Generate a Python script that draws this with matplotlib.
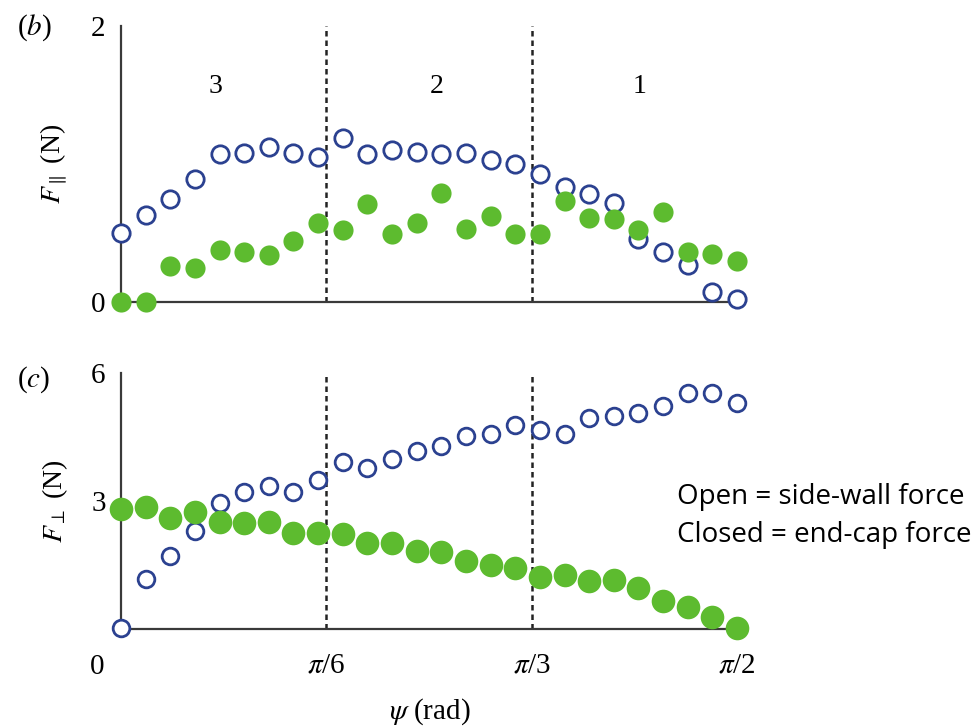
import numpy as np
import matplotlib
matplotlib.use("Agg")
import matplotlib.pyplot as plt

plt.rcParams['font.family'] = ['Liberation Serif', 'DejaVu Serif']
plt.rcParams['mathtext.fontset'] = 'stix'

n_pts = 26
psi = np.linspace(0, np.pi / 2, n_pts)

# Panel (b): F_parallel (N)
par_open = [0.50, 0.63, 0.75, 0.89, 1.07, 1.08, 1.12, 1.08, 1.05, 1.19,
            1.07, 1.10, 1.09, 1.07, 1.08, 1.03, 1.00, 0.93, 0.83, 0.78,
            0.72, 0.46, 0.36, 0.27, 0.07, 0.02]
par_closed = [0.00, 0.00, 0.26, 0.25, 0.38, 0.36, 0.34, 0.44, 0.57, 0.52,
              0.71, 0.49, 0.57, 0.79, 0.53, 0.62, 0.49, 0.49, 0.73, 0.61,
              0.60, 0.52, 0.65, 0.36, 0.35, 0.30]

# Panel (c): F_perp (N)
perp_open = [0.02, 1.17, 1.71, 2.30, 2.95, 3.21, 3.35, 3.21, 3.49, 3.91,
             3.77, 3.98, 4.17, 4.29, 4.52, 4.57, 4.78, 4.66, 4.57, 4.95,
             4.99, 5.06, 5.23, 5.53, 5.53, 5.30]
perp_closed = [2.81, 2.86, 2.60, 2.74, 2.51, 2.48, 2.51, 2.25, 2.25, 2.23,
               2.02, 2.02, 1.83, 1.80, 1.59, 1.49, 1.43, 1.22, 1.27, 1.12,
               1.15, 0.96, 0.66, 0.52, 0.28, 0.02]

region_labels = ['3', '2', '1']
region_x = [0.242, 0.806, 1.3235]
xtick_vals = [np.pi / 6, np.pi / 3, np.pi / 2]
xtick_labels = [r'$\pi$/6', r'$\pi$/3', r'$\pi$/2']

blue = '#2B4190'
green = '#5DBB2F'
axc = '#3a3a3a'
FS = 21

fig = plt.figure(figsize=(9.75, 7.28), dpi=100)
ax1 = fig.add_axes([121/975, 1-302/728, 616/975, 276/728])
ax2 = fig.add_axes([121/975, 1-629/728, 616/975, 256/728])

for ax, ymax in ((ax1, 2), (ax2, 6)):
    ax.set_xlim(0, np.pi/2)
    ax.set_ylim(0, ymax)
    for s in ('top', 'right'):
        ax.spines[s].set_visible(False)
    for s in ('left', 'bottom'):
        ax.spines[s].set_color(axc)
        ax.spines[s].set_linewidth(1.6)
    ax.spines['bottom'].set_bounds(0, 1.548)
    ax.tick_params(length=0, labelsize=FS, pad=11)
    for xv in (np.pi/6, np.pi/3):
        ax.plot([xv, xv], [0, ymax], color='#222222', lw=1.8,
                linestyle=(0, (2.2, 1.6)), zorder=1)

# top
ax1.plot(psi, par_open, 'o', ms=12.5, mfc='white', mec=blue, mew=2.0,
         clip_on=False, zorder=3)
ax1.plot(psi, par_closed, 'o', ms=14.5, mfc=green, mec=green, mew=0,
         clip_on=False, zorder=4)
ax1.set_yticks([0, 2])
ax1.set_yticklabels(['0', '2'])
ax1.set_xticks([])
for lab, xv in zip(region_labels, region_x):
    ax1.text(xv, 1.56, lab, fontsize=20, ha='center', va='center')
ax1.set_ylabel(r'$F_{\parallel}$ (N)', fontsize=20)
ax1.yaxis.set_label_coords(-0.083, 0.5)
fig.text(34/975, 1-28/728, r'($b$)', fontsize=FS, ha='center', va='center')

# bottom
ax2.plot(psi, perp_open, 'o', ms=12, mfc='white', mec=blue, mew=2.0,
         clip_on=False, zorder=3)
ax2.plot(psi, perp_closed, 'o', ms=17, mfc=green, mec=green, mew=0,
         clip_on=False, zorder=4)
ax2.set_yticks([3, 6])
ax2.set_yticklabels(['3', '6'])
ax2.set_xticks(xtick_vals)
ax2.set_xticklabels(xtick_labels)
ax2.tick_params(axis='x', pad=17)
fig.text(97/975, 1-667/728, '0', fontsize=FS, ha='center', va='center')
ax2.set_ylabel(r'$F_{\perp}$ (N)', fontsize=20)
ax2.yaxis.set_label_coords(-0.083, 0.5)
fig.text(430/975, 1-712/728, r'$\psi$ (rad)', fontsize=FS, ha='center',
         va='center')
fig.text(34/975, 1-380/728, r'($c$)', fontsize=FS, ha='center', va='center')

fig.text(677/975, 1-497/728, 'Open = side-wall force', fontsize=20,
         family='Open Sans', ha='left', va='center')
fig.text(677/975, 1-535/728, 'Closed = end-cap force', fontsize=20,
         family='Open Sans', ha='left', va='center')

fig.savefig('out.png', dpi=100)
